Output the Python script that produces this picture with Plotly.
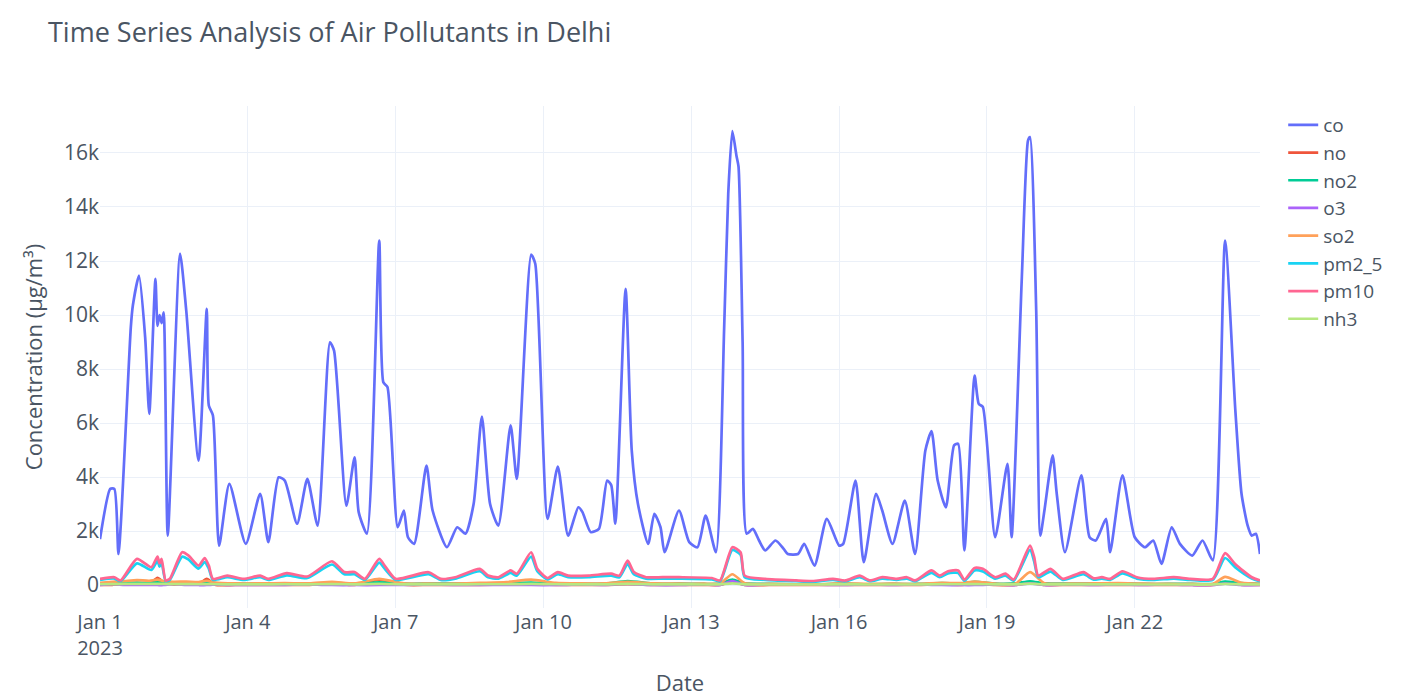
import pandas as pd
import plotly.graph_objects as go

# hours since 2023-01-01 00:00 with readings (ug/m3)
co_hours = [0, 5, 7, 9, 15, 16, 19, 22, 24, 27, 28, 29, 30, 31, 33, 39, 42, 48, 52, 53,
            55, 58, 63, 71, 78, 82, 87, 90, 96, 101, 106, 112, 114, 120, 124, 126, 130, 136, 138, 140,
            145, 148, 150, 153, 159, 162, 169, 174, 178, 182, 186, 190, 194, 200, 203, 210, 212, 218, 223, 228,
            233, 235, 239, 243, 247, 249, 251, 256, 259, 262, 267, 270, 273, 275, 282, 287, 291, 295, 300, 304,
            306, 308, 310, 311, 313, 315, 318, 321, 324, 329, 333, 335, 340, 343, 348, 354, 360, 362, 368, 372,
            378, 381, 386, 392, 397, 402, 405, 408, 412, 416, 418, 421, 426, 428, 430, 436, 442, 444, 449, 452,
            453, 456, 458, 460, 464, 466, 470, 478, 482, 485, 490, 492, 498, 504, 509, 513, 517, 522, 526, 532,
            537, 542, 548, 553, 556, 559, 561, 563, 565]
co = [1700, 3560, 3560, 1150, 9540, 10350, 11460, 9170, 6340, 11340, 9600, 10000, 9700, 10100, 1830, 12270, 10170, 4610, 10230, 6650,
      6280, 1460, 3750, 1525, 3380, 1590, 3990, 3870, 2270, 3930, 2200, 8990, 8680, 2940, 4730, 2700, 1900, 12760, 7510, 7330,
      2140, 2760, 1770, 1525, 4420, 2760, 1400, 2140, 1900, 3010, 6240, 3000, 2200, 5910, 3930, 12240, 11900, 2450, 4390, 1830,
      2880, 2700, 1960, 2080, 3870, 3700, 2270, 10970, 4980, 3010, 1525, 2640, 2140, 1215, 2760, 1590, 1400, 2570, 1215, 9500,
      14500, 16810, 15900, 15500, 9000, 1900, 2080, 1650, 1280, 1650, 1340, 1150, 1150, 1525, 720, 2450, 1460, 1525, 3870, 845,
      3380, 2760, 1525, 3130, 1150, 4980, 5700, 3870, 2880, 5170, 5230, 1280, 7760, 6710, 6600, 1770, 4490, 1770, 11400, 16460,
      16590, 10170, 1830, 2760, 4800, 3380, 1215, 4060, 1770, 1650, 2450, 1215, 4060, 1770, 1400, 1650, 785, 2140, 1525, 1090,
      1650, 910, 12760, 6460, 3380, 2200, 1830, 1900, 1150]

pm_hours = [0, 7, 10, 18, 25, 28, 29, 30, 32, 34, 40, 43, 48, 51, 53, 55, 62, 70, 78, 82,
            91, 101, 113, 119, 124, 129, 136, 139, 144, 160, 166, 173, 185, 189, 194, 200, 203, 210, 213, 218,
            223, 228, 238, 249, 253, 257, 260, 266, 274, 282, 298, 302, 308, 312, 314, 324, 339, 347, 357, 363,
            370, 375, 381, 388, 393, 397, 405, 409, 413, 418, 421, 426, 430, 436, 441, 445, 453, 455, 457, 463,
            469, 479, 484, 488, 492, 498, 505, 513, 523, 531, 542, 548, 553, 561, 565]
pm10 = [230, 290, 170, 970, 660, 1055, 800, 970, 170, 230, 1215, 1100, 720, 1000, 720, 230, 350, 230, 350, 230,
        440, 315, 880, 480, 480, 230, 970, 680, 230, 475, 230, 290, 600, 350, 290, 540, 420, 1215, 600, 260,
        480, 350, 350, 420, 350, 905, 480, 290, 290, 290, 260, 170, 1400, 1215, 350, 230, 170, 150, 230, 170,
        350, 170, 290, 230, 290, 170, 540, 350, 510, 540, 200, 635, 600, 290, 420, 200, 1460, 1030, 350, 600,
        230, 480, 250, 290, 230, 510, 290, 230, 290, 230, 230, 1180, 770, 290, 170]
pm2_5 = [190, 240, 140, 800, 560, 900, 680, 820, 140, 190, 1050, 950, 610, 850, 610, 190, 290, 190, 290, 190,
         360, 260, 760, 400, 400, 190, 830, 570, 190, 400, 190, 240, 510, 290, 240, 450, 350, 1050, 510, 210,
         400, 290, 290, 350, 290, 780, 400, 240, 240, 240, 210, 140, 1300, 1120, 290, 190, 140, 120, 190, 140,
         290, 140, 240, 190, 240, 140, 450, 290, 430, 450, 160, 540, 500, 240, 350, 160, 1300, 880, 290, 500,
         190, 400, 200, 240, 190, 430, 240, 190, 240, 190, 190, 1000, 650, 240, 140]

gas_hours = [0, 6, 12, 18, 24, 28, 31, 36, 42, 48, 52, 56, 66, 78, 90, 102, 113, 124, 136, 148,
             160, 172, 185, 198, 210, 222, 234, 246, 257, 270, 282, 294, 302, 308, 314, 326, 338, 350, 362, 374,
             386, 398, 410, 420, 426, 436, 446, 453, 460, 472, 484, 496, 508, 520, 532, 542, 548, 556, 565]
no = [5, 10, 20, 60, 30, 270, 100, 15, 40, 20, 230, 10, 5, 5, 5, 10, 60, 5, 200, 10,
      5, 5, 10, 20, 40, 10, 5, 5, 30, 5, 5, 5, 5, 120, 5, 2, 2, 2, 5, 2,
      5, 2, 20, 5, 40, 5, 5, 90, 5, 5, 5, 5, 5, 2, 2, 2, 110, 10, 5]
no2 = [60, 70, 80, 90, 80, 110, 90, 70, 80, 70, 90, 70, 50, 50, 60, 50, 80, 50, 100, 50,
       50, 50, 60, 70, 90, 60, 50, 50, 150, 50, 50, 40, 50, 200, 60, 40, 30, 30, 50, 30,
       40, 40, 70, 60, 120, 50, 60, 140, 60, 50, 50, 60, 40, 40, 40, 40, 130, 70, 40]
o3 = [10, 30, 5, 1, 1, 1, 1, 30, 5, 1, 1, 20, 1, 5, 10, 20, 1, 1, 1, 10,
      20, 5, 1, 10, 1, 1, 20, 10, 40, 1, 1, 30, 1, 150, 1, 30, 20, 15, 1, 20,
      1, 20, 1, 1, 1, 20, 1, 60, 1, 20, 1, 20, 1, 20, 1, 1, 50, 1, 10]
so2 = [80, 120, 150, 180, 160, 200, 150, 120, 130, 110, 160, 90, 60, 60, 70, 60, 120, 60, 230, 60,
       50, 50, 80, 110, 200, 80, 60, 60, 120, 60, 50, 50, 60, 400, 70, 40, 30, 30, 60, 40,
       50, 40, 80, 70, 130, 50, 60, 480, 70, 50, 60, 70, 50, 40, 40, 40, 300, 80, 40]
nh3 = [30, 35, 40, 45, 40, 45, 40, 35, 35, 30, 35, 30, 25, 25, 30, 25, 35, 25, 40, 25,
       25, 25, 30, 30, 40, 30, 25, 25, 40, 25, 25, 20, 25, 60, 25, 20, 20, 20, 25, 20,
       20, 20, 30, 30, 35, 25, 25, 50, 25, 25, 25, 25, 20, 20, 20, 20, 45, 25, 20]

start = pd.Timestamp("2023-01-01")


def to_dates(hours):
    return start + pd.to_timedelta(hours, unit="h")


series = [
    ("co", co_hours, co, "#636EFA"),
    ("no", gas_hours, no, "#EF553B"),
    ("no2", gas_hours, no2, "#00CC96"),
    ("o3", gas_hours, o3, "#AB63FA"),
    ("so2", gas_hours, so2, "#FFA15A"),
    ("pm2_5", pm_hours, pm2_5, "#19D3F3"),
    ("pm10", pm_hours, pm10, "#FF6692"),
    ("nh3", gas_hours, nh3, "#B6E880"),
]

fig = go.Figure()
for name, hrs, vals, col in series:
    fig.add_trace(go.Scatter(
        x=to_dates(hrs), y=vals, mode="lines", name=name,
        line=dict(color=col, width=2.7, shape="spline", smoothing=0.6),
    ))

fig.update_layout(
    template="plotly_white",
    width=1410, height=695,
    font=dict(family="Open Sans, DejaVu Sans, sans-serif", size=20, color="#4a5563"),
    title=dict(text="Time Series Analysis of Air Pollutants in Delhi",
               x=40 / 1410, xanchor="left", y=1 - 25 / 695, yanchor="middle",
               font=dict(size=27)),
    margin=dict(l=92, r=158, t=98, b=95),
    xaxis=dict(title=dict(text="Date", font=dict(size=22)),
               dtick=3 * 86400000, tick0="2023-01-01",
               tickfont=dict(size=20), automargin=False),
    yaxis=dict(title=dict(text="Concentration (µg/m³)", font=dict(size=22)),
               range=[-850, 17740], dtick=2000,
               tickfont=dict(size=21), automargin=False),
    legend=dict(font=dict(size=19)),
)

fig.write_html("out.html")
